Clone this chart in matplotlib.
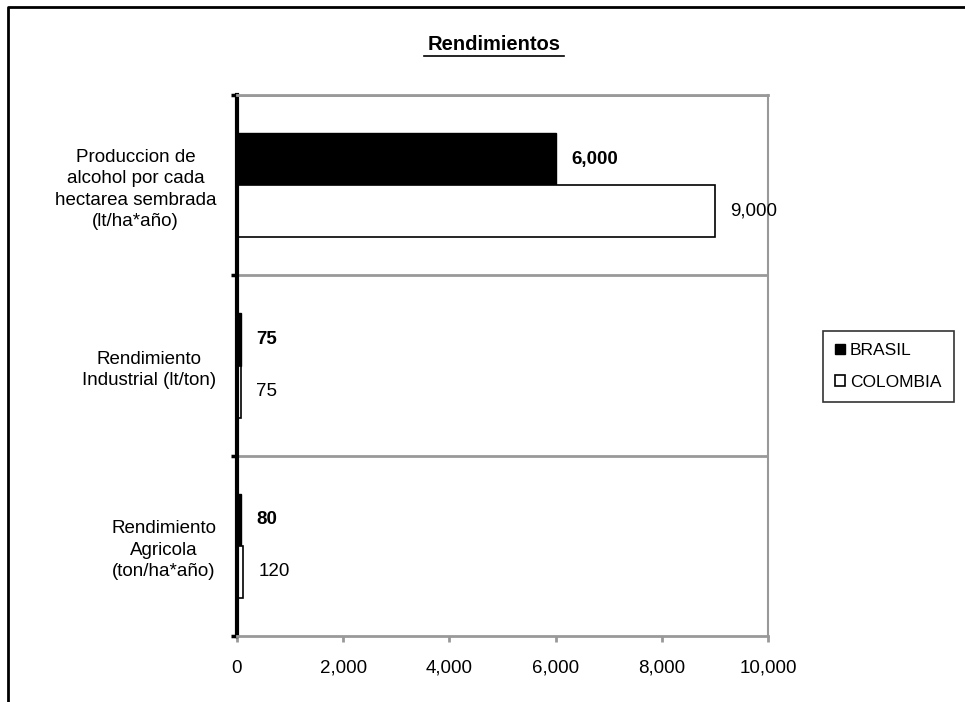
import matplotlib.pyplot as plt
import numpy as np
from matplotlib.lines import Line2D
from matplotlib.ticker import FuncFormatter

plt.rcParams['font.family'] = ['Liberation Sans', 'DejaVu Sans']

# rendimientos Brasil vs Colombia
categorias = ["Produccion de\nalcohol por cada\nhectarea sembrada\n(lt/ha*año)",
              "Rendimiento\nIndustrial (lt/ton)",
              "Rendimiento\nAgricola\n(ton/ha*año)"]
brasil = [6000, 75, 80]
colombia = [9000, 75, 120]
series = ["BRASIL", "COLOMBIA"]

fig = plt.figure(figsize=(9.65, 7.02), dpi=100)
ax = fig.add_axes([237/965, 1 - 636/702, 531/965, 541/702])

y = np.arange(len(categorias))
h = 0.29
b1 = ax.barh(y - h/2, brasil, height=h, color='black', edgecolor='black',
             linewidth=1, label=series[0])
b2 = ax.barh(y + h/2, colombia, height=h, color='white', edgecolor='black',
             linewidth=1.2, label=series[1])

fmt = lambda v: f"{v:,.0f}"
for bar, v in zip(b1, brasil):
    ax.annotate(fmt(v), (v, bar.get_y() + bar.get_height()/2), xytext=(11, 0),
                textcoords='offset points', va='center', ha='left',
                fontsize=13.5, fontweight='bold', clip_on=False)
for bar, v in zip(b2, colombia):
    ax.annotate(fmt(v), (v, bar.get_y() + bar.get_height()/2), xytext=(11, 0),
                textcoords='offset points', va='center', ha='left',
                fontsize=13.5, clip_on=False)

ax.set_xlim(0, 10000)
ax.set_ylim(2.5, -0.5)
ax.set_xticks(np.arange(0, 10001, 2000))
ax.xaxis.set_major_formatter(FuncFormatter(lambda v, p: fmt(v)))
ax.tick_params(axis='x', colors='#999999', length=4, width=2, labelsize=13.5,
               labelcolor='black', pad=13)

ax.set_yticks(y)
ax.set_yticklabels(categorias, fontsize=13.5)
for t in ax.get_yticklabels():
    t.set_multialignment('center')
    t.set_linespacing(1.35)
ax.tick_params(axis='y', length=0, pad=15)
ax.set_yticks([-0.5, 0.5, 1.5, 2.5], minor=True)
ax.tick_params(axis='y', which='minor', length=4, width=2.5, color='black')

# separadores entre categorias
for yb in [-0.5, 0.5, 1.5]:
    ax.axhline(yb, color='#999999', linewidth=2, zorder=0)

ax.spines['left'].set_linewidth(3)
ax.spines['left'].set_color('black')
for s in ['top', 'bottom']:
    ax.spines[s].set_color('#999999')
    ax.spines[s].set_linewidth(2)
ax.spines['right'].set_color('#999999')
ax.spines['right'].set_linewidth(1.5)

leg = fig.legend(handles=[b1, b2], loc='upper left',
                 bbox_to_anchor=(823/965, 1 - 331/702), fontsize=12.5,
                 frameon=True, fancybox=False, handlelength=0.55,
                 handleheight=0.55, handletextpad=0.3, labelspacing=0.95,
                 borderpad=0.7, borderaxespad=0)
leg.get_frame().set_edgecolor('black')
leg.get_frame().set_linewidth(1.2)

fig.text(494/965, 1 - 45/702, "Rendimientos", ha='center', va='center',
         fontsize=14.5, fontweight='bold')
fig.add_artist(Line2D([424/965, 564/965], [1 - 56/702, 1 - 56/702],
                      color='black', linewidth=1.2))

# marco del grafico
fig.add_artist(Line2D([8/965, 8/965, 1], [0, 1 - 7/702, 1 - 7/702],
                      color='black', linewidth=2))

fig.savefig("out.png", dpi=100)
